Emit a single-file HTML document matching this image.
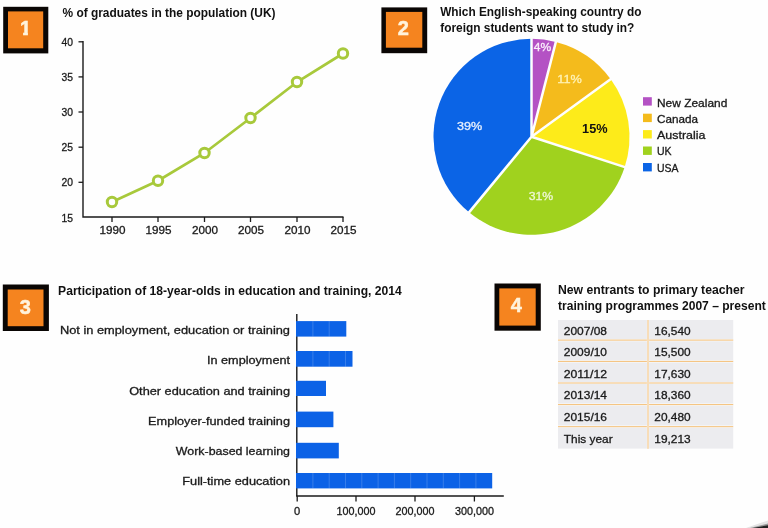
<!DOCTYPE html>
<html lang="en"><head><meta charset="utf-8"><title>Charts</title>
<style>html,body{margin:0;padding:0;background:#fff;}body{width:768px;height:528px;overflow:hidden;}svg{display:block;will-change:transform;}text{font-family:"Liberation Sans",Arial,sans-serif;fill:#1a1a1a;}.t{font-weight:bold;font-size:12px;fill:#111;}.l{font-size:11px;stroke:#1a1a1a;stroke-width:0.3px;}.b{font-weight:bold;font-size:20px;fill:#fff3dc;stroke:#fff3dc;stroke-width:0.5px;text-anchor:middle;}</style></head><body>
<svg width="768" height="528" viewBox="0 0 768 528">
<rect width="768" height="528" fill="#fefefe"/>
<defs><clipPath id="c1"><path d="M17 17H30V31.9H27.9V37H23.1V31.9H17Z"/></clipPath></defs>
<rect x="3.2" y="6.8" width="45.1" height="46.6" fill="#0a0604"/>
<rect x="8" y="11.4" width="35.2" height="36.9" fill="#f5841f"/>
<text x="25.6" y="34.6" class="b" clip-path="url(#c1)">1</text>
<rect x="381.4" y="7.4" width="45.8" height="45.8" fill="#0a0604"/>
<rect x="385.9" y="11.9" width="36.4" height="35.8" fill="#f5841f"/>
<text x="403.3" y="34.9" class="b">2</text>
<rect x="2.8" y="284.5" width="46.1" height="46.5" fill="#0a0604"/>
<rect x="7.7" y="289.5" width="35.8" height="36.7" fill="#f5841f"/>
<text x="25.3" y="313.9" class="b">3</text>
<rect x="494.5" y="283.5" width="46.3" height="47.2" fill="#0a0604"/>
<rect x="499.3" y="288.4" width="36.4" height="37.2" fill="#f5841f"/>
<text x="516.2" y="312.3" class="b">4</text>
<text x="62.5" y="16.6" class="t" textLength="213" lengthAdjust="spacingAndGlyphs">% of graduates in the population (UK)</text>
<path d="M83 41 V217 H343.5" fill="none" stroke="#1a1a1a" stroke-width="1.4"/>
<path d="M78.5 41.8 H83" stroke="#1a1a1a" stroke-width="1.3"/>
<text x="73" y="45.8" class="l" textLength="11.5" lengthAdjust="spacingAndGlyphs" text-anchor="end">40</text>
<path d="M78.5 76.9 H83" stroke="#1a1a1a" stroke-width="1.3"/>
<text x="73" y="80.9" class="l" textLength="11.5" lengthAdjust="spacingAndGlyphs" text-anchor="end">35</text>
<path d="M78.5 112.0 H83" stroke="#1a1a1a" stroke-width="1.3"/>
<text x="73" y="116.0" class="l" textLength="11.5" lengthAdjust="spacingAndGlyphs" text-anchor="end">30</text>
<path d="M78.5 147.2 H83" stroke="#1a1a1a" stroke-width="1.3"/>
<text x="73" y="151.2" class="l" textLength="11.5" lengthAdjust="spacingAndGlyphs" text-anchor="end">25</text>
<path d="M78.5 182.3 H83" stroke="#1a1a1a" stroke-width="1.3"/>
<text x="73" y="186.3" class="l" textLength="11.5" lengthAdjust="spacingAndGlyphs" text-anchor="end">20</text>
<text x="73" y="221.5" class="l" textLength="11.5" lengthAdjust="spacingAndGlyphs" text-anchor="end">15</text>
<path d="M112 217 V222" stroke="#1a1a1a" stroke-width="1.3"/>
<text x="112.6" y="234.4" class="l" textLength="26" lengthAdjust="spacingAndGlyphs" text-anchor="middle">1990</text>
<path d="M158 217 V222" stroke="#1a1a1a" stroke-width="1.3"/>
<text x="158.6" y="234.4" class="l" textLength="26" lengthAdjust="spacingAndGlyphs" text-anchor="middle">1995</text>
<path d="M204.5 217 V222" stroke="#1a1a1a" stroke-width="1.3"/>
<text x="205.1" y="234.4" class="l" textLength="26" lengthAdjust="spacingAndGlyphs" text-anchor="middle">2000</text>
<path d="M250.5 217 V222" stroke="#1a1a1a" stroke-width="1.3"/>
<text x="251.1" y="234.4" class="l" textLength="26" lengthAdjust="spacingAndGlyphs" text-anchor="middle">2005</text>
<path d="M297 217 V222" stroke="#1a1a1a" stroke-width="1.3"/>
<text x="297.6" y="234.4" class="l" textLength="26" lengthAdjust="spacingAndGlyphs" text-anchor="middle">2010</text>
<path d="M343 217 V222" stroke="#1a1a1a" stroke-width="1.3"/>
<text x="343.6" y="234.4" class="l" textLength="26" lengthAdjust="spacingAndGlyphs" text-anchor="middle">2015</text>
<polyline points="112,202 158,180.75 204.5,153 250.5,118 297,82 343,53.5" fill="none" stroke="#a8c93b" stroke-width="2.7"/>
<circle cx="112" cy="202" r="4.7" fill="#fefefe" stroke="#a8c93b" stroke-width="3"/>
<circle cx="158" cy="180.75" r="4.7" fill="#fefefe" stroke="#a8c93b" stroke-width="3"/>
<circle cx="204.5" cy="153" r="4.7" fill="#fefefe" stroke="#a8c93b" stroke-width="3"/>
<circle cx="250.5" cy="118" r="4.7" fill="#fefefe" stroke="#a8c93b" stroke-width="3"/>
<circle cx="297" cy="82" r="4.7" fill="#fefefe" stroke="#a8c93b" stroke-width="3"/>
<circle cx="343" cy="53.5" r="4.7" fill="#fefefe" stroke="#a8c93b" stroke-width="3"/>
<text x="440.2" y="16.2" class="t" textLength="201.2" lengthAdjust="spacingAndGlyphs">Which English-speaking country do</text>
<text x="440.2" y="31.5" class="t" textLength="194.2" lengthAdjust="spacingAndGlyphs">foreign students want to study in?</text>
<path d="M531.5 136.8 L531.50 38.80 A98 98 0 0 1 555.87 41.88 Z" fill="#b452c4"/>
<path d="M531.5 136.8 L555.87 41.88 A98 98 0 0 1 610.78 79.20 Z" fill="#f4bb1c"/>
<path d="M531.5 136.8 L610.78 79.20 A98 98 0 0 1 624.70 167.08 Z" fill="#fdeb1a"/>
<path d="M531.5 136.8 L624.70 167.08 A98 98 0 0 1 469.03 212.31 Z" fill="#a0d21e"/>
<path d="M531.5 136.8 L469.03 212.31 A98 98 0 0 1 531.50 38.80 Z" fill="#0b64e6"/>
<text x="542.4" y="51.4" class="l" textLength="17.4" lengthAdjust="spacingAndGlyphs" text-anchor="middle" style="fill:#fbeffc;stroke:#fbeffc">4%</text>
<text x="569.6" y="83.4" class="l" textLength="24.5" lengthAdjust="spacingAndGlyphs" text-anchor="middle" style="fill:#fff2b4;stroke:#fff2b4">11%</text>
<text x="594.8" y="133" class="t" textLength="25.5" lengthAdjust="spacingAndGlyphs" text-anchor="middle" style="fill:#111">15%</text>
<text x="469.7" y="130.2" class="l" textLength="25.2" lengthAdjust="spacingAndGlyphs" text-anchor="middle" style="fill:#e6effd;stroke:#e6effd">39%</text>
<text x="541" y="199.5" class="l" textLength="24.5" lengthAdjust="spacingAndGlyphs" text-anchor="middle" style="fill:#eef7d4;stroke:#eef7d4">31%</text>
<path d="M531.5 136.8 L531.50 37.80 M531.5 136.8 L556.12 40.91 M531.5 136.8 L611.59 78.61 M531.5 136.8 L625.65 167.39 M531.5 136.8 L468.40 213.08" fill="none" stroke="#fefefe" stroke-width="2.5" stroke-linecap="round"/>
<rect x="643" y="97.2" width="8.8" height="8.4" fill="#b452c4"/>
<text x="657" y="106.6" class="l" textLength="70.3" lengthAdjust="spacingAndGlyphs">New Zealand</text>
<rect x="643" y="113.7" width="8.8" height="8.4" fill="#f4bb1c"/>
<text x="657" y="122.9" class="l" textLength="41" lengthAdjust="spacingAndGlyphs">Canada</text>
<rect x="643" y="130.1" width="8.8" height="8.4" fill="#fdeb1a"/>
<text x="657" y="139.1" class="l" textLength="48.4" lengthAdjust="spacingAndGlyphs">Australia</text>
<rect x="643" y="146.5" width="8.8" height="8.4" fill="#a0d21e"/>
<text x="657" y="155.4" class="l" textLength="14.6" lengthAdjust="spacingAndGlyphs">UK</text>
<rect x="643" y="163.0" width="8.8" height="8.4" fill="#0b64e6"/>
<text x="657" y="171.7" class="l" textLength="21.5" lengthAdjust="spacingAndGlyphs">USA</text>
<text x="58.1" y="295" class="t" textLength="343.6" lengthAdjust="spacingAndGlyphs">Participation of 18-year-olds in education and training, 2014</text>
<path d="M296.8 314 V496" fill="none" stroke="#1a1a1a" stroke-width="1.4"/>
<rect x="296.0" y="321.1" width="50.3" height="15.5" fill="#0c62e6"/>
<path d="M312.9 321.1 V336.6" stroke="#fff" stroke-opacity="0.18" stroke-width="1"/>
<path d="M329.2 321.1 V336.6" stroke="#fff" stroke-opacity="0.18" stroke-width="1"/>
<text x="59.900000000000006" y="334.0" class="l" textLength="230.1" lengthAdjust="spacingAndGlyphs">Not in employment, education or training</text>
<rect x="296.0" y="351" width="56.5" height="15.7" fill="#0c62e6"/>
<path d="M312.9 351 V366.7" stroke="#fff" stroke-opacity="0.18" stroke-width="1"/>
<path d="M329.2 351 V366.7" stroke="#fff" stroke-opacity="0.18" stroke-width="1"/>
<path d="M345.5 351 V366.7" stroke="#fff" stroke-opacity="0.18" stroke-width="1"/>
<text x="207" y="364.3" class="l" textLength="83" lengthAdjust="spacingAndGlyphs">In employment</text>
<rect x="296.0" y="380.8" width="30.0" height="15.2" fill="#0c62e6"/>
<text x="129.2" y="394.90000000000003" class="l" textLength="160.8" lengthAdjust="spacingAndGlyphs">Other education and training</text>
<rect x="296.0" y="411.6" width="37.4" height="15.6" fill="#0c62e6"/>
<text x="148.1" y="424.7" class="l" textLength="141.9" lengthAdjust="spacingAndGlyphs">Employer-funded training</text>
<rect x="296.0" y="442.8" width="42.8" height="15.6" fill="#0c62e6"/>
<text x="175.8" y="454.7" class="l" textLength="114.2" lengthAdjust="spacingAndGlyphs">Work-based learning</text>
<rect x="296.0" y="473" width="196.2" height="15.4" fill="#0c62e6"/>
<path d="M312.9 473 V488.4" stroke="#fff" stroke-opacity="0.18" stroke-width="1"/>
<path d="M329.2 473 V488.4" stroke="#fff" stroke-opacity="0.18" stroke-width="1"/>
<path d="M345.5 473 V488.4" stroke="#fff" stroke-opacity="0.18" stroke-width="1"/>
<path d="M361.8 473 V488.4" stroke="#fff" stroke-opacity="0.18" stroke-width="1"/>
<path d="M378.1 473 V488.4" stroke="#fff" stroke-opacity="0.18" stroke-width="1"/>
<path d="M394.4 473 V488.4" stroke="#fff" stroke-opacity="0.18" stroke-width="1"/>
<path d="M410.7 473 V488.4" stroke="#fff" stroke-opacity="0.18" stroke-width="1"/>
<path d="M427.0 473 V488.4" stroke="#fff" stroke-opacity="0.18" stroke-width="1"/>
<path d="M443.3 473 V488.4" stroke="#fff" stroke-opacity="0.18" stroke-width="1"/>
<path d="M459.6 473 V488.4" stroke="#fff" stroke-opacity="0.18" stroke-width="1"/>
<path d="M475.9 473 V488.4" stroke="#fff" stroke-opacity="0.18" stroke-width="1"/>
<text x="182.3" y="484.90000000000003" class="l" textLength="107.7" lengthAdjust="spacingAndGlyphs">Full-time education</text>
<path d="M296.1 496 H503.8" fill="none" stroke="#1a1a1a" stroke-width="1.6"/>
<path d="M297.2 496 V501.5" stroke="#1a1a1a" stroke-width="1.3"/>
<text x="297.2" y="514.6" class="l" textLength="6.2" lengthAdjust="spacingAndGlyphs" text-anchor="middle">0</text>
<path d="M356 496 V501.5" stroke="#1a1a1a" stroke-width="1.3"/>
<text x="356" y="514.6" class="l" textLength="39" lengthAdjust="spacingAndGlyphs" text-anchor="middle">100,000</text>
<path d="M415 496 V501.5" stroke="#1a1a1a" stroke-width="1.3"/>
<text x="415" y="514.6" class="l" textLength="39" lengthAdjust="spacingAndGlyphs" text-anchor="middle">200,000</text>
<path d="M474.4 496 V501.5" stroke="#1a1a1a" stroke-width="1.3"/>
<text x="474.4" y="514.6" class="l" textLength="39" lengthAdjust="spacingAndGlyphs" text-anchor="middle">300,000</text>
<text x="558" y="293.9" class="t" textLength="186.5" lengthAdjust="spacingAndGlyphs">New entrants to primary teacher</text>
<text x="558" y="309.5" class="t" textLength="207.8" lengthAdjust="spacingAndGlyphs">training programmes 2007 – present</text>
<rect x="558" y="320" width="175.2" height="128.6" fill="#ececef"/>
<path d="M558 340.1 H733.2" stroke="#fbfbfb" stroke-width="2.2"/>
<path d="M558 340.1 H733.2" stroke="#f3b866" stroke-width="0.9"/>
<path d="M558 361.4 H733.2" stroke="#fbfbfb" stroke-width="2.2"/>
<path d="M558 361.4 H733.2" stroke="#f3b866" stroke-width="0.9"/>
<path d="M558 383 H733.2" stroke="#fbfbfb" stroke-width="2.2"/>
<path d="M558 383 H733.2" stroke="#f3b866" stroke-width="0.9"/>
<path d="M558 404.6 H733.2" stroke="#fbfbfb" stroke-width="2.2"/>
<path d="M558 404.6 H733.2" stroke="#f3b866" stroke-width="0.9"/>
<path d="M558 426.7 H733.2" stroke="#fbfbfb" stroke-width="2.2"/>
<path d="M558 426.7 H733.2" stroke="#f3b866" stroke-width="0.9"/>
<path d="M648 320 V448.8" stroke="#fbfbfb" stroke-width="2.2"/>
<path d="M648 320 V448.8" stroke="#f3b866" stroke-width="0.9"/>
<text x="563.8" y="335" class="l" textLength="43.2" lengthAdjust="spacingAndGlyphs">2007/08</text>
<text x="654.3" y="335" class="l" textLength="36.4" lengthAdjust="spacingAndGlyphs">16,540</text>
<text x="563.8" y="356.3" class="l" textLength="43.2" lengthAdjust="spacingAndGlyphs">2009/10</text>
<text x="654.3" y="356.3" class="l" textLength="36.4" lengthAdjust="spacingAndGlyphs">15,500</text>
<text x="563.8" y="377.6" class="l" textLength="43.2" lengthAdjust="spacingAndGlyphs">2011/12</text>
<text x="654.3" y="377.6" class="l" textLength="36.4" lengthAdjust="spacingAndGlyphs">17,630</text>
<text x="563.8" y="398.9" class="l" textLength="43.2" lengthAdjust="spacingAndGlyphs">2013/14</text>
<text x="654.3" y="398.9" class="l" textLength="36.4" lengthAdjust="spacingAndGlyphs">18,360</text>
<text x="563.8" y="420.8" class="l" textLength="43.2" lengthAdjust="spacingAndGlyphs">2015/16</text>
<text x="654.3" y="420.8" class="l" textLength="36.4" lengthAdjust="spacingAndGlyphs">20,480</text>
<text x="563.8" y="442.6" class="l" textLength="48.8" lengthAdjust="spacingAndGlyphs">This year</text>
<text x="654.3" y="442.6" class="l" textLength="36.4" lengthAdjust="spacingAndGlyphs">19,213</text>
<path d="M746 528 L768 520.5 V528 Z" fill="#e4e4e4"/>
<path d="M750 528 L768 523.4 V528 Z" fill="#9a9a9a"/>
<path d="M753 528 L768 525.2 V528 Z" fill="#222"/>
</svg></body></html>
